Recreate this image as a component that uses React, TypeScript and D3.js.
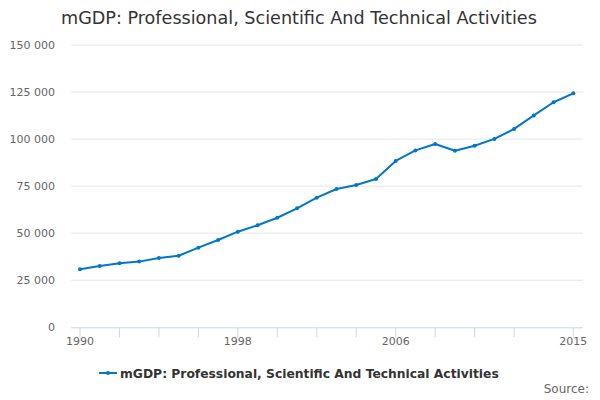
import React from "react";
import * as d3 from "d3";

const years: number[] = [1990,1991,1992,1993,1994,1995,1996,1997,1998,1999,2000,2001,2002,2003,2004,2005,2006,2007,2008,2009,2010,2011,2012,2013,2014,2015];
const values: number[] = [30800,32600,34000,34900,36800,38000,42300,46400,50800,54200,58200,63200,68900,73500,75600,78800,88400,94000,97400,93800,96500,100100,105400,112600,119600,124300];
const yTicks: number[] = [0,25000,50000,75000,100000,125000,150000];
const xTicks: number[] = [1990,1992,1994,1996,1998,2000,2002,2004,2006,2008,2010,2012,2015];
const xLabels: number[] = [1990,1998,2006,2015];
const title = "mGDP: Professional, Scientific And Technical Activities";
const seriesName = "mGDP: Professional, Scientific And Technical Activities";

const W = 600, H = 400;
const font = "'DejaVu Sans', sans-serif";

export default function App() {
  const x = d3.scaleLinear().domain([1990, 2015]).range([80, 573.3]);
  const y = d3.scaleLinear().domain([0, 150000]).range([327.3, 45]);
  const fmt = (v: number) => d3.format(",")(v).replace(/,/g, " ");
  const line = d3.line<number>().x((_, i) => x(years[i])).y((d) => y(d));
  return (
    <svg width={W} height={H} style={{ position: "absolute", left: 0, top: 0, fontFamily: font }}>
      <rect width={W} height={H} fill="#fff" />
      <text x={61} y={24} fontSize={17.6} fill="#333">{title}</text>
      {yTicks.map((t) => (
        <g key={t}>
          {t > 0 && <line x1={71} x2={583} y1={y(t)} y2={y(t)} stroke="#e6e6e6" strokeWidth={1} />}
          <text x={55} y={y(t) + 4} fontSize={11} fill="#666" textAnchor="end">{fmt(t)}</text>
        </g>
      ))}
      <line x1={71} x2={583} y1={y(0) + 0.5} y2={y(0) + 0.5} stroke="#ccd6eb" strokeWidth={1} />
      {xTicks.map((t) => (
        <line key={t} x1={x(t)} x2={x(t)} y1={y(0)} y2={y(0) + 10} stroke="#ccd6eb" strokeWidth={1} />
      ))}
      {xLabels.map((t) => (
        <text key={t} x={x(t)} y={345} fontSize={11} fill="#666" textAnchor="middle">{t}</text>
      ))}
      <path d={line(values) || ""} fill="none" stroke="#0077c8" strokeWidth={2} strokeLinejoin="round" />
      {values.map((v, i) => (
        <circle key={i} cx={x(years[i])} cy={y(v)} r={2} fill="#0077c8" />
      ))}
      <g>
        <line x1={99} x2={117} y1={373} y2={373} stroke="#0077c8" strokeWidth={2} />
        <circle cx={108} cy={373} r={2} fill="#0077c8" />
        <text x={120} y={377.5} fontSize={12.3} fontWeight="bold" fill="#333">{seriesName}</text>
      </g>
      <text x={589} y={393} fontSize={12} fill="#666" textAnchor="end">Source:</text>
    </svg>
  );
}
